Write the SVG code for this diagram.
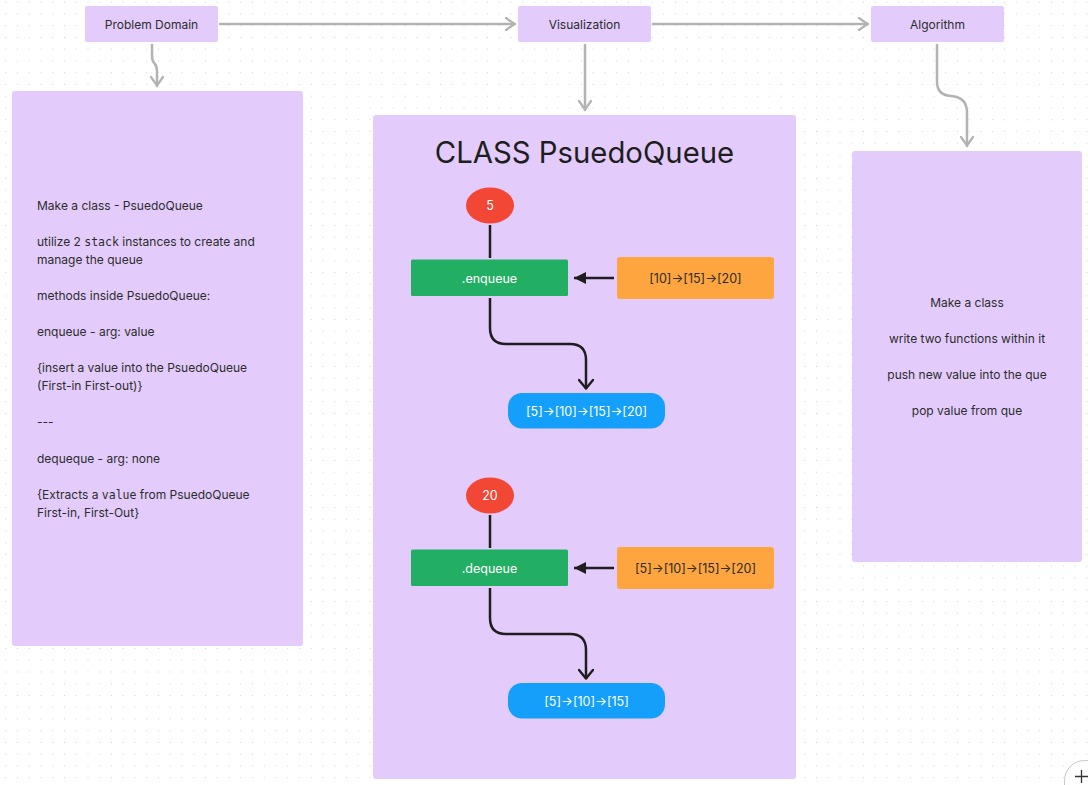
<svg xmlns="http://www.w3.org/2000/svg" width="1088" height="785" viewBox="0 0 1088 785">
<defs>
<pattern id="dots" x="5.25" y="1.7" width="11.75" height="11.75" patternUnits="userSpaceOnUse">
<rect x="0" y="0" width="1" height="1" fill="#cfcfcf"/>
</pattern>
<marker id="chevGray" viewBox="0 0 12 14" refX="11" refY="7" markerWidth="12" markerHeight="14" markerUnits="userSpaceOnUse" orient="auto">
<path d="M2 1 L10.5 7 L2 13" fill="none" stroke="#b3b3b3" stroke-width="2.2" stroke-linecap="round" stroke-linejoin="round"/>
</marker>
<marker id="chevBlack" viewBox="0 0 12 16" refX="11" refY="8" markerWidth="12" markerHeight="16" markerUnits="userSpaceOnUse" orient="auto">
<path d="M2 1 L10.5 8 L2 15" fill="none" stroke="#1e1e1e" stroke-width="2.4" stroke-linecap="round" stroke-linejoin="round"/>
</marker>
<marker id="triBlack" viewBox="0 0 14 14" refX="13" refY="7" markerWidth="14" markerHeight="14" markerUnits="userSpaceOnUse" orient="auto">
<path d="M1 1 L13 7 L1 13 Z" fill="#1e1e1e"/>
</marker>
</defs>
<style>
.lav{fill:#e3ccfb;}
.lbl{font-family:Inter,"Liberation Sans",sans-serif;font-size:12px;fill:#2c2c2c;}
.body{font-family:Inter,"Liberation Sans",sans-serif;font-size:12px;fill:#2c2c2c;}
.mono{font-family:"DejaVu Sans Mono","Liberation Mono",monospace;font-size:11.5px;}
.wt{font-family:Inter,"Liberation Sans",sans-serif;font-size:12.5px;fill:#ffffff;}
.dk{font-family:Inter,"Liberation Sans",sans-serif;font-size:12.5px;fill:#2c2c2c;}
.gray{fill:none;stroke:#b3b3b3;stroke-width:2.5;stroke-linecap:round;}
.blk{fill:none;stroke:#1e1e1e;stroke-width:2.5;}
.green{fill:#22ae63;}
.orange{fill:#ffa53f;}
.blue{fill:#139ffa;}
.red{fill:#f24734;}
</style>
<rect width="1088" height="785" fill="#ffffff"/>
<rect width="1088" height="785" fill="url(#dots)"/>

<g id="problem-domain">
<rect class="lav" x="85" y="6" width="133" height="36" rx="2"/>
<text class="lbl" x="151.5" y="28.5" text-anchor="middle">Problem Domain</text>
</g>
<g id="visualization">
<rect class="lav" x="518" y="6" width="133" height="36" rx="2"/>
<text class="lbl" x="584.5" y="28.5" text-anchor="middle">Visualization</text>
</g>
<g id="algorithm">
<rect class="lav" x="871" y="6" width="133" height="36" rx="2"/>
<text class="lbl" x="937.5" y="28.5" text-anchor="middle">Algorithm</text>
</g>

<g id="problem-notes">
<rect class="lav" x="12" y="91" width="291" height="555" rx="3"/>
<text class="body" x="37" y="210">Make a class - PsuedoQueue</text>
<text class="body" x="37" y="246">utilize 2 <tspan class="mono">stack</tspan> instances to create and</text>
<text class="body" x="37" y="264">manage the queue</text>
<text class="body" x="37" y="300">methods inside PsuedoQueue:</text>
<text class="body" x="37" y="336">enqueue - arg: value</text>
<text class="body" x="37" y="372">{insert a value into the PsuedoQueue</text>
<text class="body" x="37" y="390">(First-in First-out)}</text>
<text class="body" x="37" y="426">---</text>
<text class="body" x="37" y="463">dequeque - arg: none</text>
<text class="body" x="37" y="499">{Extracts a <tspan class="mono">value</tspan> from PsuedoQueue</text>
<text class="body" x="37" y="517">First-in, First-Out}</text>
</g>

<g id="visualization-panel">
<rect class="lav" x="373" y="115" width="423" height="664" rx="3"/>
<text x="584.5" y="163" text-anchor="middle" font-family="Inter,'Liberation Sans',sans-serif" font-size="29.3" fill="#1e1e1e">CLASS PsuedoQueue</text>
</g>

<g id="value-5">
<ellipse class="red" cx="490" cy="205.5" rx="24" ry="18"/>
<text class="wt" x="490" y="210" text-anchor="middle">5</text>
</g>
<g id="enqueue">
<rect class="green" x="411" y="259.5" width="157" height="36.5" rx="1.5"/>
<text class="wt" x="489.5" y="282.5" text-anchor="middle">.enqueue</text>
</g>
<g id="stack-before-enqueue">
<rect class="orange" x="617" y="257" width="157" height="42" rx="3"/>
<text class="dk" x="695.5" y="282.5" text-anchor="middle">[10]→[15]→[20]</text>
</g>
<g id="queue-after-enqueue">
<rect class="blue" x="508" y="393" width="157" height="35.5" rx="14"/>
<text class="wt" x="586.5" y="415.5" text-anchor="middle">[5]→[10]→[15]→[20]</text>
</g>

<g id="value-20">
<ellipse class="red" cx="490" cy="495.5" rx="24" ry="18"/>
<text class="wt" x="490" y="500" text-anchor="middle">20</text>
</g>
<g id="dequeue">
<rect class="green" x="411" y="549.5" width="157" height="36.5" rx="1.5"/>
<text class="wt" x="489.5" y="572.5" text-anchor="middle">.dequeue</text>
</g>
<g id="stack-before-dequeue">
<rect class="orange" x="617" y="547" width="157" height="42" rx="3"/>
<text class="dk" x="695.5" y="572.5" text-anchor="middle">[5]→[10]→[15]→[20]</text>
</g>
<g id="queue-after-dequeue">
<rect class="blue" x="508" y="683" width="157" height="35.5" rx="14"/>
<text class="wt" x="586.5" y="705.5" text-anchor="middle">[5]→[10]→[15]</text>
</g>

<g id="algorithm-notes">
<rect class="lav" x="852" y="151" width="230" height="411" rx="3"/>
<text class="body" x="967" y="306.5" text-anchor="middle">Make a class</text>
<text class="body" x="967" y="342.5" text-anchor="middle">write two functions within it</text>
<text class="body" x="967" y="379" text-anchor="middle">push new value into the que</text>
<text class="body" x="967" y="415" text-anchor="middle">pop value from que</text>
</g>

<g id="connectors">
<path class="gray" d="M220 24 H515" marker-end="url(#chevGray)"/>
<path class="gray" d="M653 24 H868" marker-end="url(#chevGray)"/>
<path class="gray" d="M152 45 V56 Q152 61 154.5 63.5 Q157 66 157 71 V86" marker-end="url(#chevGray)"/>
<path class="gray" d="M585 45 V110" marker-end="url(#chevGray)"/>
<path class="gray" d="M937 45 V82 Q937 95 951 96 Q966 97 967 111 V146" marker-end="url(#chevGray)"/>
<path class="blk" d="M490 225 V258"/>
<path class="blk" d="M614 278 H574" marker-end="url(#triBlack)"/>
<path class="blk" d="M490 298 V328 Q490 344 506 344 H570 Q586 344 586 360 V389" marker-end="url(#chevBlack)"/>
<path class="blk" d="M490 515 V548"/>
<path class="blk" d="M614 568 H574" marker-end="url(#triBlack)"/>
<path class="blk" d="M490 588 V618 Q490 634 506 634 H570 Q586 634 586 650 V679" marker-end="url(#chevBlack)"/>
</g>

<rect x="1064.5" y="760.5" width="48" height="48" rx="20" fill="#ffffff" stroke="#c8c8c8" stroke-width="1"/>
<path d="M1075 776.5 H1088 M1081.5 770 V783" stroke="#333333" stroke-width="1.3" fill="none"/>
</svg>
